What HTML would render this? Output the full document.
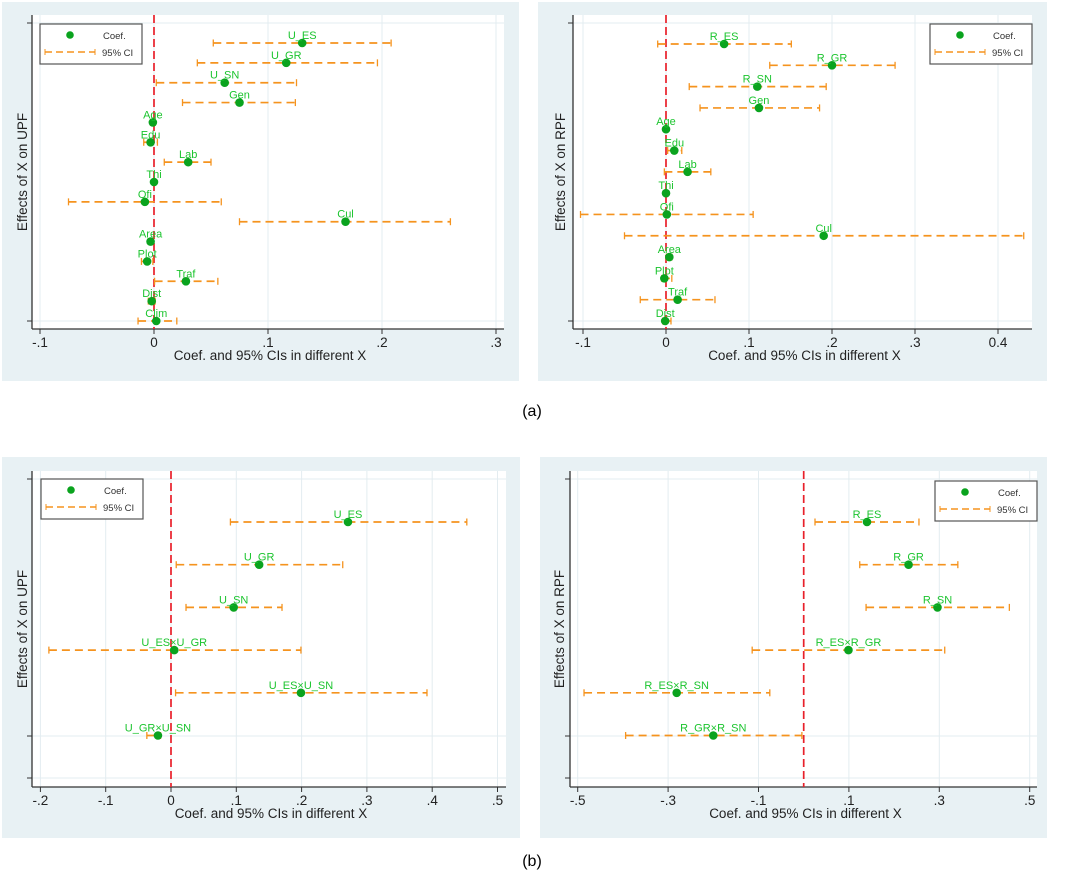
<!DOCTYPE html>
<html><head><meta charset="utf-8">
<style>
body{margin:0;background:#fff;width:1065px;height:883px;overflow:hidden;font-family:"Liberation Sans",sans-serif}
svg text{font-family:"Liberation Sans",sans-serif}
</style></head>
<body>
<svg id="fig" width="1065" height="883" viewBox="0 0 1065 883" xmlns="http://www.w3.org/2000/svg">
<text x="532" y="416" font-size="16" text-anchor="middle" font-family="Liberation Serif">(a)</text>
<text x="532" y="866" font-size="16" text-anchor="middle" font-family="Liberation Serif">(b)</text>
</svg>
<script>
// Panel A-left (UPF)
const aLeftLabels = ["U_ES","U_GR","U_SN","Gen","Age","Edu","Lab","Thi","Ofi","Cul","Area","Plot","Traf","Dist","Clim"];
const aLeftCoef = [0.130,0.116,0.062,0.075,-0.001,-0.003,0.030,0.000,-0.008,0.168,-0.003,-0.006,0.028,-0.002,0.002];
const aLeftLo = [0.052,0.038,0.002,0.025,-0.003,-0.009,0.009,-0.001,-0.075,0.075,-0.005,-0.011,0.0005,-0.005,-0.014];
const aLeftHi = [0.208,0.196,0.125,0.124,0.001,0.003,0.050,0.001,0.059,0.260,-0.001,-0.001,0.056,0.001,0.020];
const aLeftTicks = [-0.1,0,0.1,0.2,0.3];
const aLeftTickLabels = ["-.1","0",".1",".2",".3"];
// Panel A-right (RPF)
const aRightLabels = ["R_ES","R_GR","R_SN","Gen","Age","Edu","Lab","Thi","Ofi","Cul","Area","Plot","Traf","Dist"];
const aRightCoef = [0.070,0.200,0.110,0.112,0.000,0.010,0.026,0.000,0.001,0.190,0.004,-0.002,0.014,-0.001];
const aRightLo = [-0.010,0.125,0.028,0.041,-0.002,0.002,-0.002,-0.001,-0.103,-0.050,0.0005,-0.005,-0.031,-0.004];
const aRightHi = [0.151,0.276,0.193,0.185,0.002,0.019,0.054,0.001,0.105,0.431,0.007,0.007,0.059,0.006];
const aRightTicks = [-0.1,0,0.1,0.2,0.3,0.4];
const aRightTickLabels = ["-.1","0",".1",".2",".3","0.4"];
// Panel B-left (UPF interactions)
const bLeftLabels = ["U_ES","U_GR","U_SN","U_ES×U_GR","U_ES×U_SN","U_GR×U_SN"];
const bLeftCoef = [0.271,0.135,0.096,0.005,0.199,-0.020];
const bLeftLo = [0.091,0.008,0.023,-0.187,0.007,-0.037];
const bLeftHi = [0.453,0.263,0.170,0.199,0.392,-0.016];
const bLeftTicks = [-0.2,-0.1,0,0.1,0.2,0.3,0.4,0.5];
const bLeftTickLabels = ["-.2","-.1","0",".1",".2",".3",".4",".5"];
// Panel B-right (RPF interactions)
const bRightLabels = ["R_ES","R_GR","R_SN","R_ES×R_GR","R_ES×R_SN","R_GR×R_SN"];
const bRightCoef = [0.140,0.232,0.296,0.099,-0.281,-0.200];
const bRightLo = [0.025,0.124,0.138,-0.114,-0.486,-0.394];
const bRightHi = [0.255,0.341,0.455,0.312,-0.075,-0.004];
const bRightTicks = [-0.5,-0.3,-0.1,0.1,0.3,0.5];
const bRightTickLabels = ["-.5","-.3","-.1",".1",".3",".5"];

const NS="http://www.w3.org/2000/svg";
const svg=document.getElementById('fig');
function mk(tag,attrs,parent){const e=document.createElementNS(NS,tag);for(const k in attrs)e.setAttribute(k,attrs[k]);(parent||svg).appendChild(e);return e;}

function panel(cfg){
  const g=mk('g',{});
  
  
  const bg=mk('rect',{x:cfg.bg[0],y:cfg.bg[1],width:cfg.bg[2]-cfg.bg[0],height:cfg.bg[3]-cfg.bg[1],fill:'#e8f1f4'},g);
  
  
  const L=cfg.plot[0],T=cfg.plot[1],R=cfg.plot[2],B=cfg.plot[3];
  mk('rect',{x:L,y:T,width:R-L,height:B-T,fill:'#fff'},g);
  const x=v=>cfg.x0+(v-cfg.v0)*cfg.scale;
  const n=cfg.labels.length;
  const y=i=>cfg.yTop+i*(cfg.yBot-cfg.yTop)/(n-1);
  cfg.ticks.forEach((t,i)=>{
    const gl=mk('line',{x1:x(t),x2:x(t),y1:T,y2:B,stroke:'#e3ecf0','stroke-width':1},g);
    
    
    mk('line',{x1:x(t),x2:x(t),y1:B,y2:B+5,stroke:'#333'},g);
    const tl=mk('text',{x:x(t),y:B+18,'font-size':13.5,'text-anchor':'middle',fill:'#222'},g);
    tl.textContent=cfg.tickLabels[i];
    
    
  });
  cfg.hgrid.forEach(h=>{
    mk('line',{x1:L,x2:R,y1:h,y2:h,stroke:'#e3ecf0'},g);
    mk('line',{x1:L-5,x2:L,y1:h,y2:h,stroke:'#333'},g);
  });
  mk('line',{x1:L,x2:L,y1:T,y2:B,stroke:'#333','stroke-width':1.3},g);
  mk('line',{x1:L,x2:R,y1:B,y2:B,stroke:'#333','stroke-width':1.3},g);
  const z=mk('line',{x1:x(0),x2:x(0),y1:T,y2:B,stroke:'#e8202a','stroke-width':1.7,'stroke-dasharray':'8,4'},g);
  
  
  for(let i=0;i<n;i++){
    const yy=y(i);
    const ci=mk('g',{},g);
    
    
    mk('line',{x1:x(cfg.lo[i]),x2:x(cfg.hi[i]),y1:yy,y2:yy,stroke:'#f5931e','stroke-width':1.7,'stroke-dasharray':'8,5'},ci);
    mk('line',{x1:x(cfg.lo[i]),x2:x(cfg.lo[i]),y1:yy-3.5,y2:yy+3.5,stroke:'#f5931e','stroke-width':1.3},ci);
    mk('line',{x1:x(cfg.hi[i]),x2:x(cfg.hi[i]),y1:yy-3.5,y2:yy+3.5,stroke:'#f5931e','stroke-width':1.3},ci);
    const pt=mk('circle',{cx:x(cfg.coef[i]),cy:yy,r:4.3,fill:'#0aa31e'},g);
    
    
    const lb=mk('text',{x:x(cfg.coef[i]),y:yy-4,'font-size':11,'text-anchor':'middle',fill:'#1bc42e'},g);
    lb.textContent=cfg.labels[i];
    
    
  }
  const lg=mk('g',{},g);
  
  
  const [lx,ly]=cfg.legend;
  mk('rect',{x:lx,y:ly,width:102,height:40,fill:'#fff',stroke:'#555','stroke-width':1.2},lg);
  mk('circle',{cx:lx+30,cy:ly+11,r:3.8,fill:'#0aa31e'},lg);
  const t1=mk('text',{x:lx+63,y:ly+15,'font-size':9.5,fill:'#333'},lg);t1.textContent='Coef.';
  
  
  mk('line',{x1:lx+5,x2:lx+55,y1:ly+28,y2:ly+28,stroke:'#f5931e','stroke-width':1.6,'stroke-dasharray':'7,4'},lg);
  mk('line',{x1:lx+5,x2:lx+5,y1:ly+25,y2:ly+31,stroke:'#f5931e'},lg);
  mk('line',{x1:lx+55,x2:lx+55,y1:ly+25,y2:ly+31,stroke:'#f5931e'},lg);
  const t2=mk('text',{x:lx+62,y:ly+32,'font-size':9.5,fill:'#333'},lg);t2.textContent='95% CI';
  
  
  const xt=mk('text',{x:(L+R)/2+2,y:B+31,'font-size':13.5,'text-anchor':'middle',fill:'#222'},g);
  xt.textContent='Coef. and 95% CIs in different X';
  
  
  const ycx=cfg.ytx, ycy=(T+B)/2;
  const yt=mk('text',{x:ycx,y:ycy,'font-size':13.5,'text-anchor':'middle',fill:'#222',transform:`rotate(-90 ${ycx} ${ycy})`},g);
  yt.textContent=cfg.ytitle;
  
  
}

panel({name:'panel-a-upf',bg:[2,2,519,381],plot:[32,15,504,329],x0:154,v0:0,scale:1140,
  labels:aLeftLabels,coef:aLeftCoef,lo:aLeftLo,hi:aLeftHi,ticks:aLeftTicks,tickLabels:aLeftTickLabels,
  yTop:43,yBot:321,hgrid:[23,321],legend:[40,24],ytx:27,ytitle:'Effects of X on UPF'});
panel({name:'panel-a-rpf',bg:[538,2,1047,381],plot:[573,15,1032,329],x0:666,v0:0,scale:830,
  labels:aRightLabels,coef:aRightCoef,lo:aRightLo,hi:aRightHi,ticks:aRightTicks,tickLabels:aRightTickLabels,
  yTop:44,yBot:321,hgrid:[23,321],legend:[930,24],ytx:565,ytitle:'Effects of X on RPF'});
panel({name:'panel-b-upf',bg:[2,457,520,838],plot:[32,471,506,787],x0:171,v0:0,scale:653,
  labels:bLeftLabels,coef:bLeftCoef,lo:bLeftLo,hi:bLeftHi,ticks:bLeftTicks,tickLabels:bLeftTickLabels,
  yTop:522,yBot:735.5,hgrid:[479,736,778],legend:[41,479],ytx:27,ytitle:'Effects of X on UPF'});
panel({name:'panel-b-rpf',bg:[540,457,1047,838],plot:[570,471,1037,787],x0:803.7,v0:0,scale:452,
  labels:bRightLabels,coef:bRightCoef,lo:bRightLo,hi:bRightHi,ticks:bRightTicks,tickLabels:bRightTickLabels,
  yTop:522,yBot:735.5,hgrid:[479,736,778],legend:[935,481],ytx:564,ytitle:'Effects of X on RPF'});
</script>
</body></html>
